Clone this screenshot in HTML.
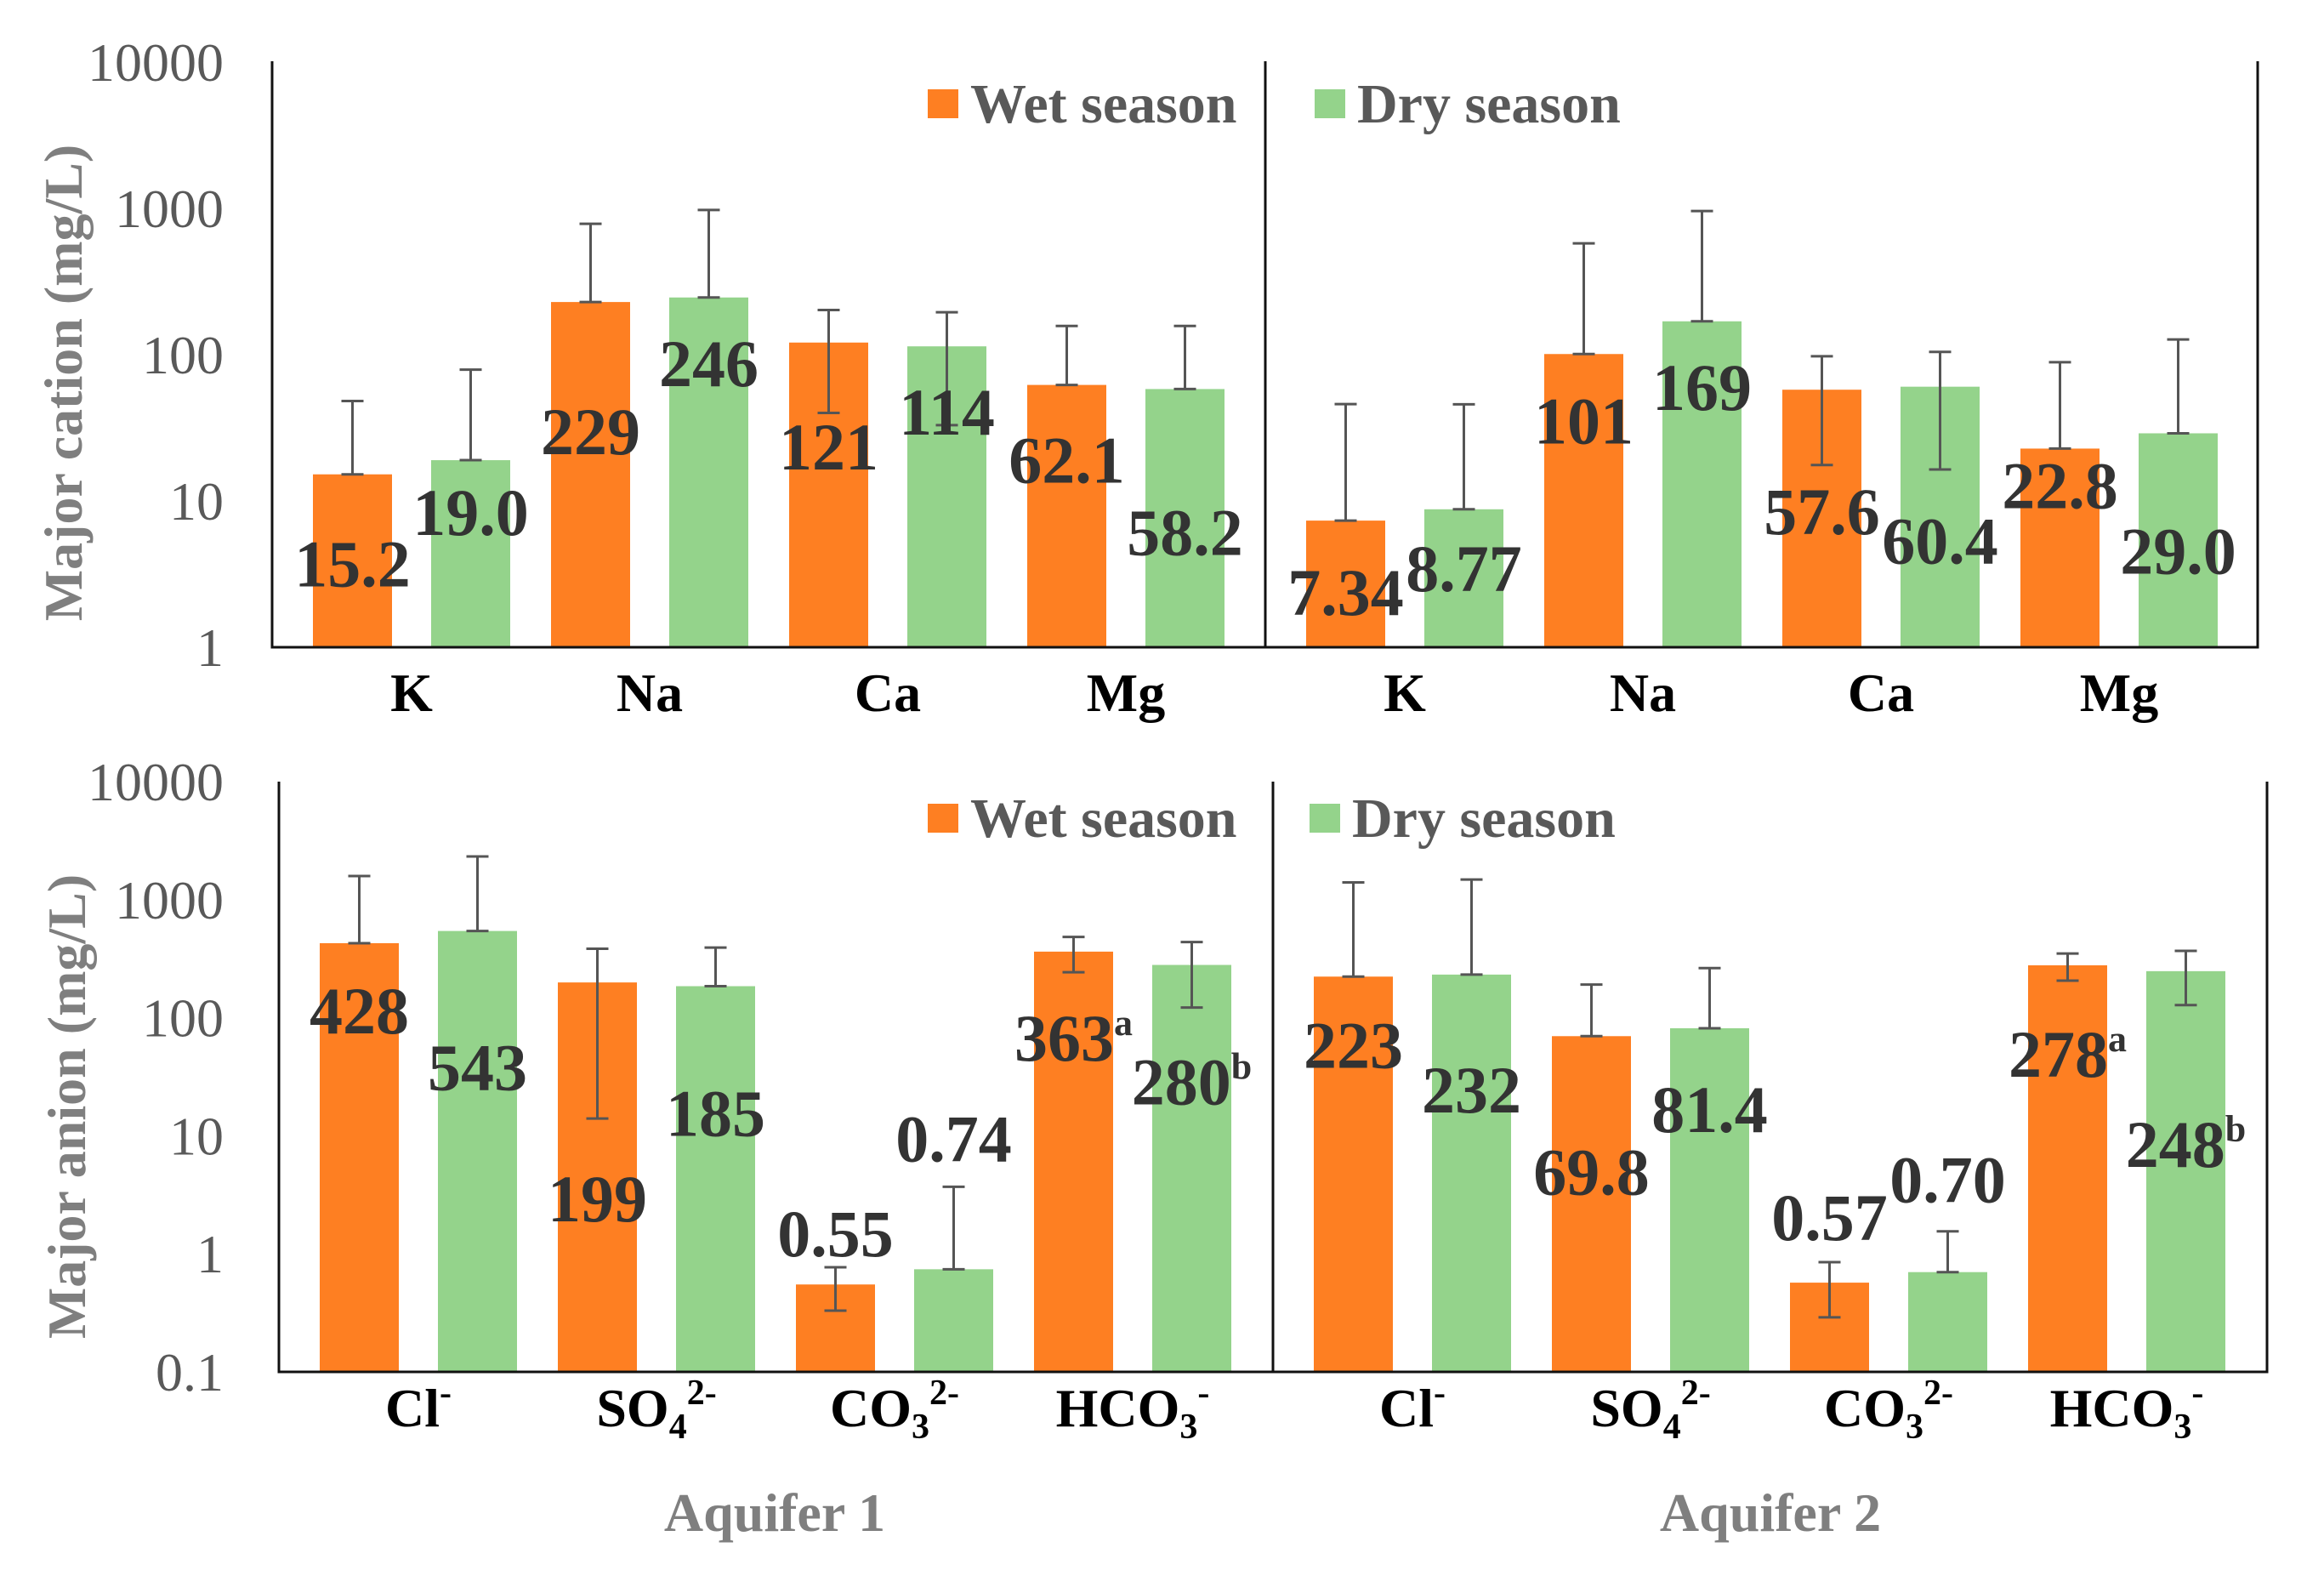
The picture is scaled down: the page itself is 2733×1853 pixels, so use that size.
<!DOCTYPE html>
<html><head><meta charset="utf-8"><style>
html,body{margin:0;padding:0;background:#fff;}
svg{display:block;}
text{font-family:"Liberation Serif",serif;}
</style></head><body>
<svg id="chart" width="2733" height="1853" viewBox="0 0 2733 1853" xmlns="http://www.w3.org/2000/svg"></svg>
<script>
const cationCats = ["K","Na","Ca","Mg"];
const anionCats = [["Cl","","-"],["SO","4","2-"],["CO","3","2-"],["HCO","3","-"]];
// Aquifer 1 / Aquifer 2 cation means and SD
const cat1Wet = [15.2, 229, 121, 62.1];
const cat1Dry = [19.0, 246, 114, 58.2];
const cat2Wet = [7.34, 101, 57.6, 22.8];
const cat2Dry = [8.77, 169, 60.4, 29.0];
const cat1WetSd = [33, 556, 81, 95];
const cat1DrySd = [60, 730, 81, 99];
const cat2WetSd = [38.6, 476, 40, 66];
const cat2DrySd = [37, 790, 44, 98];
const cat1WetLbl = ["15.2","229","121","62.1"];
const cat1DryLbl = ["19.0","246","114","58.2"];
const cat2WetLbl = ["7.34","101","57.6","22.8"];
const cat2DryLbl = ["8.77","169","60.4","29.0"];
// anion means and SD
const an1Wet = [428, 199, 0.55, 363];
const an1Dry = [543, 185, 0.74, 280];
const an2Wet = [223, 69.8, 0.57, 278];
const an2Dry = [232, 81.4, 0.70, 248];
const an1WetSd = [1157, 185, 0.22, 120];
const an1DrySd = [1780, 208, 2.96, 158];
const an2WetSd = [1177, 121, 0.28, 72];
const an2DrySd = [1250, 182, 0.85, 120];
const an1WetLbl = ["428","199","0.55","363"];
const an1DryLbl = ["543","185","0.74","280"];
const an2WetLbl = ["223","69.8","0.57","278"];
const an2DryLbl = ["232","81.4","0.70","248"];
const an1WetSup = ["","","","a"], an1DrySup = ["","","","b"];
const an2WetSup = ["","","","a"], an2DrySup = ["","","","b"];
const cationTicks = ["1","10","100","1000","10000"];
const anionTicks = ["0.1","1","10","100","1000","10000"];

// layout (label offsets in px below bar top)
const topOff = {w1:[106,153,123,89], d1:[62,78,78,169], w2:[85,79,144,44], d2:[70,78,182,139]};
const botOff = {w1:[80,255,-59,102], d1:[161,150,-153,138], w2:[81,160,-76,105], d2:[136,96,-108,204]};

const svg = document.getElementById('chart');
const NS = "http://www.w3.org/2000/svg";
function mk(tag, attrs, parent){const e=document.createElementNS(NS,tag);for(const k in attrs)e.setAttribute(k,attrs[k]);(parent||svg).appendChild(e);return e;}
const ORANGE="#FE7F22", GREEN="#94D38B", ERR="#555555", LBL="#333333";
const BW=93, STEP=280, OFF0=48, DRYOFF=139;

function drawPanel(cfg){
  const g = mk('g',{});
  
  
  const yOf = v => cfg.base - (Math.log10(v) - cfg.minLog) * cfg.dec;
  cfg.ticks.forEach((t,i)=>{
    const el = mk('text',{x:263,y:cfg.base-i*cfg.dec+22,'text-anchor':'end','font-size':64,fill:'#595959'},g);
    
    
    el.textContent=t;
  });
  const yt = mk('text',{x:0,y:0,'text-anchor':'middle','font-size':64,'font-weight':'bold',fill:'#7f7f7f',transform:`translate(${cfg.titleX},${cfg.titleY}) rotate(-90)`},g);
  
  
  yt.textContent=cfg.title;
  const series=[
    {vals:cfg.w1,sd:cfg.w1sd,lbl:cfg.w1l,sup:cfg.w1s,off:cfg.off.w1,p:0,c:ORANGE,n:'wet-aquifer1'},
    {vals:cfg.d1,sd:cfg.d1sd,lbl:cfg.d1l,sup:cfg.d1s,off:cfg.off.d1,p:0,c:GREEN,n:'dry-aquifer1'},
    {vals:cfg.w2,sd:cfg.w2sd,lbl:cfg.w2l,sup:cfg.w2s,off:cfg.off.w2,p:1,c:ORANGE,n:'wet-aquifer2'},
    {vals:cfg.d2,sd:cfg.d2sd,lbl:cfg.d2l,sup:cfg.d2s,off:cfg.off.d2,p:1,c:GREEN,n:'dry-aquifer2'}];
  series.forEach((s,si)=>{
    const dry = (si%2===1);
    s.vals.forEach((v,i)=>{
      const x = cfg.starts[s.p] + OFF0 + i*STEP + (dry?DRYOFF:0);
      const yt = yOf(v);
      const r = mk('rect',{x:x,y:yt,width:BW,height:cfg.base-yt,fill:s.c},g);
      
      
      const cx = x+BW/2;
      const hi = yOf(v+s.sd[i]);
      const lo = v-s.sd[i] > 0 ? yOf(v-s.sd[i]) : yt;
      const eb = mk('path',{d:`M${cx},${hi}V${lo}M${cx-13},${hi}H${cx+13}M${cx-13},${lo}H${cx+13}`,stroke:ERR,'stroke-width':3,fill:'none'},g);
      
      
      const t = mk('text',{x:cx,y:yt+s.off[i]+26,'text-anchor':'middle','font-size':78,'font-weight':'bold',fill:LBL},g);
      
      
      t.textContent=s.lbl[i];
      if(s.sup && s.sup[i]){const sp=mk('tspan',{'font-size':44,dy:-30},t);sp.textContent=s.sup[i];}
    });
  });
  const ax = mk('path',{d:`M${cfg.starts[0]},${cfg.top}V${cfg.base}H${cfg.end}V${cfg.top}M${cfg.starts[1]},${cfg.top}V${cfg.base}`,stroke:'#111',fill:'none','stroke-width':3},g);
  
  
  [0,1].forEach(p=>{
    cfg.cats.forEach((c,i)=>{
      const cx = cfg.starts[p]+OFF0+i*STEP+(DRYOFF+BW)/2;
      const t = mk('text',{x:cx,y:cfg.catY,'text-anchor':'middle','font-size':64,'font-weight':'bold',fill:'#000'},g);
      
      
      if(typeof c==='string'){t.textContent=c;}
      else{
        t.appendChild(document.createTextNode(c[0]));
        if(c[1]){const s1=mk('tspan',{'font-size':42,dy:14},t);s1.textContent=c[1];}
        const s2=mk('tspan',{'font-size':42,dy:c[1]?-40:-26},t);s2.textContent=c[2];
      }
    });
  });
  const lg = mk('g',{},g);
  
  
  const l1=mk('rect',{x:1091,y:cfg.legY-17,width:36,height:34,fill:ORANGE},lg);
  
  
  const t1=mk('text',{x:1141,y:cfg.legY+22,'font-size':66,'font-weight':'bold',fill:'#595959'},lg);
  
  
  t1.textContent='Wet season';
  const l2=mk('rect',{x:cfg.legX2,y:cfg.legY-17,width:36,height:34,fill:GREEN},lg);
  
  
  const t2=mk('text',{x:cfg.legX2+50,y:cfg.legY+22,'font-size':66,'font-weight':'bold',fill:'#595959'},lg);
  
  
  t2.textContent='Dry season';
}

drawPanel({name:'cation-panel',base:761,top:72,dec:172,minLog:0,ticks:cationTicks,title:'Major cation (mg/L)',titleX:96,titleY:450,
  starts:[320,1488],end:2655,cats:cationCats,catY:836,legY:122,legX2:1546,
  w1:cat1Wet,d1:cat1Dry,w2:cat2Wet,d2:cat2Dry,w1sd:cat1WetSd,d1sd:cat1DrySd,w2sd:cat2WetSd,d2sd:cat2DrySd,
  w1l:cat1WetLbl,d1l:cat1DryLbl,w2l:cat2WetLbl,d2l:cat2DryLbl,off:topOff});
drawPanel({name:'anion-panel',base:1613,top:919,dec:138.8,minLog:-1,ticks:anionTicks,title:'Major anion (mg/L)',titleX:100,titleY:1301,
  starts:[328,1497],end:2666,cats:anionCats,catY:1677,legY:962,legX2:1540,
  w1:an1Wet,d1:an1Dry,w2:an2Wet,d2:an2Dry,w1sd:an1WetSd,d1sd:an1DrySd,w2sd:an2WetSd,d2sd:an2DrySd,
  w1l:an1WetLbl,d1l:an1DryLbl,w2l:an2WetLbl,d2l:an2DryLbl,w1s:an1WetSup,d1s:an1DrySup,w2s:an2WetSup,d2s:an2DrySup,off:botOff});

[["Aquifer 1",911,'aquifer-1-label'],["Aquifer 2",2082,'aquifer-2-label']].forEach(a=>{
  const t=mk('text',{x:a[1],y:1800,'text-anchor':'middle','font-size':64,'font-weight':'bold',fill:'#7f7f7f'});
  
  
  t.textContent=a[0];
});
</script>
</body></html>
